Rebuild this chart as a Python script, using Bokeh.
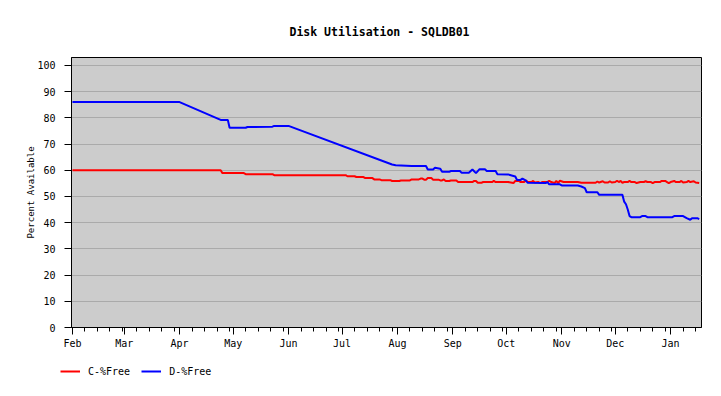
import numpy as np
from bokeh.plotting import figure
from bokeh.models import (FixedTicker, DatetimeTickFormatter, Legend, LegendItem, Range1d)
from bokeh.embed import file_html
from bokeh.resources import INLINE

# ---- data (days since 1 Feb, percent free) ----
start = np.datetime64("2012-02-01")

c_days = [0, 83, 84, 96, 97, 112, 113, 153, 154, 158, 159, 163, 164, 168, 169, 172, 173, 178,
          179, 183, 184, 189, 190, 194, 195, 196, 197, 198, 199, 201, 202, 205, 206, 207, 208,
          209, 211, 212, 215, 216, 224, 225, 226, 227, 229, 230, 235, 236, 237, 244, 247, 248,
          250, 251, 253, 254, 255, 257, 258, 259, 261, 262, 263, 266, 267, 268, 270, 271, 272,
          273, 275, 283, 285, 293, 294, 295, 297, 298, 300, 301, 302, 304, 305, 306, 307, 308,
          309, 311, 312, 313, 315, 316, 318, 320, 321, 322, 324, 325, 326, 329, 330, 332, 333,
          334, 335, 337, 338, 340, 341, 342, 344, 345, 346, 348, 349, 351]
c_free = [60.0, 60.0, 58.9, 58.9, 58.5, 58.5, 58.1, 58.1, 57.7, 57.7, 57.4, 57.4, 57.0, 57.0,
          56.5, 56.5, 56.2, 56.2, 55.9, 55.9, 56.1, 56.1, 56.5, 56.5, 56.8, 56.8, 56.4, 56.4,
          57.0, 57.0, 56.4, 56.4, 56.1, 56.1, 56.5, 55.9, 55.9, 56.1, 56.1, 55.5, 55.5, 55.9,
          55.9, 55.2, 55.2, 55.5, 55.5, 55.9, 55.5, 55.5, 55.1, 55.9, 55.9, 55.5, 55.5, 56.1,
          55.5, 55.5, 55.9, 55.3, 55.5, 55.1, 55.5, 55.5, 56.0, 55.5, 55.1, 55.9, 55.1, 56.0,
          55.5, 55.5, 55.2, 55.2, 55.7, 55.3, 55.8, 55.3, 55.3, 55.8, 55.3, 55.5, 56.0, 55.5,
          55.9, 55.2, 55.5, 55.5, 55.9, 55.5, 55.5, 55.1, 55.5, 55.5, 55.8, 55.5, 55.5, 55.1,
          55.5, 55.5, 55.9, 55.9, 55.5, 55.1, 55.5, 55.9, 55.5, 55.5, 55.9, 55.3, 55.5, 55.9,
          55.5, 55.8, 55.3, 55.1]

d_days = [0, 60, 83, 87, 88, 97, 98, 112, 113, 121, 179, 181, 190, 198, 199, 202, 203, 206,
          207, 211, 212, 217, 218, 222, 224, 226, 228, 231, 232, 237, 238, 244, 246, 248, 249,
          251, 252, 254, 255, 265, 266, 267, 273, 274, 283, 285, 287, 288, 294, 295, 308, 309,
          310, 311, 312, 313, 318, 319, 321, 322, 336, 337, 342, 344, 346, 347, 350, 351]
d_free = [86.0, 86.0, 79.2, 79.2, 76.2, 76.2, 76.5, 76.6, 76.9, 76.9, 62.2, 61.9, 61.6, 61.6,
          60.3, 60.3, 60.9, 60.6, 59.4, 59.4, 59.7, 59.7, 59.0, 59.0, 60.3, 58.9, 60.4, 60.4,
          59.7, 59.7, 58.5, 58.4, 58.0, 57.6, 56.3, 56.3, 56.8, 56.0, 55.2, 55.1, 55.5, 54.6,
          54.6, 54.2, 54.2, 53.8, 53.2, 51.6, 51.6, 50.6, 50.6, 48.0, 47.0, 45.0, 42.5, 42.1,
          42.1, 42.5, 42.5, 42.1, 42.1, 42.5, 42.5, 41.7, 41.1, 41.7, 41.7, 41.3]

y_ticks = list(range(0, 101, 10))
series_labels = ["C-%Free", "D-%Free"]
series_colors = ["#ff0000", "#0000ff"]
title_text = "Disk Utilisation - SQLDB01"
y_label = "Percent Available"


def to_ms(d):
    return d.astype("datetime64[ms]").astype("int64").astype(float)


c_dates = start + np.array(c_days, dtype="timedelta64[D]")
d_dates = start + np.array(d_days, dtype="timedelta64[D]")

months = np.arange(np.datetime64("2012-02"), np.datetime64("2013-02"), dtype="datetime64[M]")
major_ms = list(to_ms(months.astype("datetime64[D]")))
minor = []
for m in months:
    first = m.astype("datetime64[D]")
    nxt = (m + 1).astype("datetime64[D]")
    for dd in (7, 14, 21, 28):
        t = first + np.timedelta64(dd, "D")
        if t < nxt:
            minor.append(t)
minor_ms = list(to_ms(np.array(minor)))

x0 = float(to_ms(start)) - 13 * 3600 * 1000
x1 = float(to_ms(start)) + 352.3 * 86400 * 1000

FONT = "DejaVu Sans Mono"

p = figure(width=705, height=352, x_axis_type="datetime", output_backend="svg",
           toolbar_location=None, x_range=Range1d(x0, x1), y_range=Range1d(0, 103),
           min_border_left=71, min_border_right=4, min_border_top=57, min_border_bottom=25,
           title=title_text)

p.background_fill_color = "#cccccc"
p.border_fill_color = "white"
p.outline_line_color = "black"
p.outline_line_width = 1
p.outline_line_alpha = 1

p.title.text_font = FONT
p.title.text_font_size = "11.5px"
p.title.text_font_style = "bold"
p.title.text_color = "black"
p.title.align = "left"
p.title.offset = 218
p.title.standoff = 38

p.xaxis.ticker = FixedTicker(ticks=major_ms, minor_ticks=minor_ms)
p.xaxis.formatter = DatetimeTickFormatter(
    microseconds="%b", milliseconds="%b", seconds="%b", minsec="%b", minutes="%b",
    hourmin="%b", hours="%b", days="%b", months="%b", years="%b")
p.xaxis.major_tick_out = 7
p.xaxis.major_tick_in = 0
p.xaxis.minor_tick_out = 4
p.xaxis.minor_tick_in = 0
p.xaxis.major_label_standoff = 3

p.yaxis.ticker = FixedTicker(ticks=y_ticks)
p.yaxis.minor_tick_line_color = None
p.yaxis.major_tick_out = 7
p.yaxis.major_tick_in = 0
p.yaxis.major_label_standoff = 9
p.yaxis.axis_label = y_label
p.yaxis.axis_label_text_font = FONT
p.yaxis.axis_label_text_font_size = "9px"
p.yaxis.axis_label_text_font_style = "normal"
p.yaxis.axis_label_text_color = "black"
p.yaxis.axis_label_standoff = -2

for ax in (p.xaxis, p.yaxis):
    ax.axis_line_color = "black"
    ax.major_tick_line_color = "black"
    ax.major_label_text_font = FONT
    ax.major_label_text_font_size = "10px"
    ax.major_label_text_color = "black"
p.xaxis.minor_tick_line_color = "black"

p.xgrid.visible = False
p.ygrid.grid_line_color = "#aaaaaa"
p.ygrid.grid_line_width = 1

p.line(c_dates, c_free, line_color=series_colors[0], line_width=2)
p.line(d_dates, d_free, line_color=series_colors[1], line_width=2)

# legend strip below the chart (separate root, so its frame is not aligned to the chart)
q = figure(width=705, height=28, output_backend="svg", toolbar_location=None,
           x_range=Range1d(0, 1), y_range=Range1d(0, 1),
           x_axis_location=None, y_axis_location=None,
           min_border=0, min_border_left=0, min_border_right=0,
           min_border_top=0, min_border_bottom=0)
q.outline_line_color = None
q.background_fill_color = "white"
q.border_fill_color = "white"
q.xgrid.visible = False
q.ygrid.visible = False
# legend-only renderers, kept outside the visible range
lr1 = q.line([5, 6], [5, 6], line_color=series_colors[0], line_width=2)
lr2 = q.line([5, 6], [5, 6], line_color=series_colors[1], line_width=2)

legend = Legend(items=[LegendItem(label=series_labels[0], renderers=[lr1]),
                       LegendItem(label=series_labels[1], renderers=[lr2])],
                location=(60, 3), orientation="horizontal")
legend.background_fill_alpha = 0
legend.border_line_color = None
legend.padding = 0
legend.margin = 0
legend.spacing = 11
legend.glyph_width = 20
legend.glyph_height = 12
legend.label_height = 12
legend.label_standoff = 8
legend.label_text_font = FONT
legend.label_text_font_size = "10px"
legend.label_text_color = "black"
q.add_layout(legend)

open("out.html", "w").write(file_html([p, q], INLINE))
